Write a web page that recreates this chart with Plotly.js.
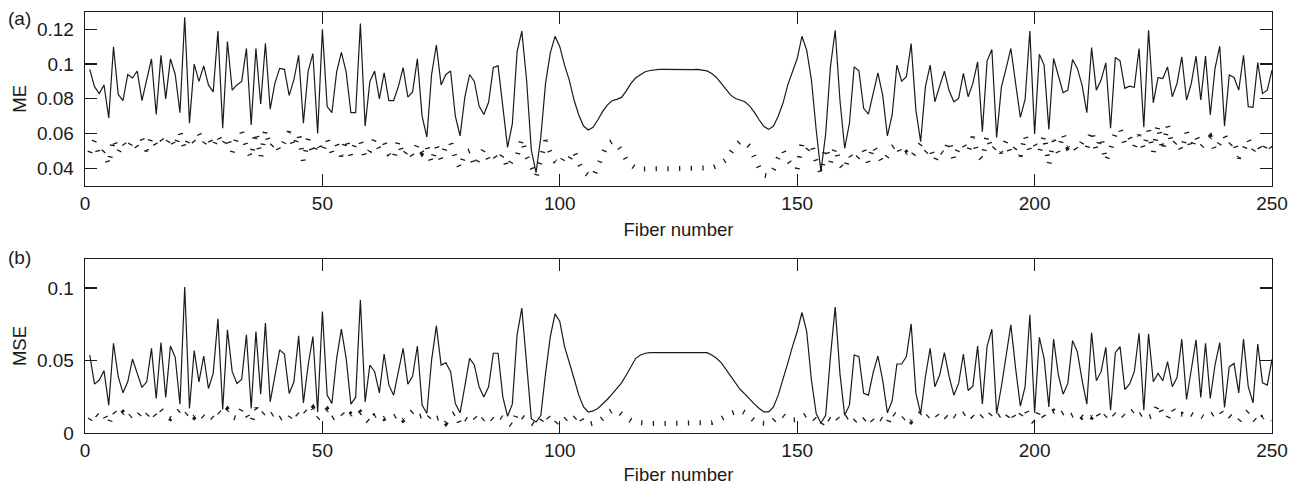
<!DOCTYPE html>
<html>
<head>
<meta charset="utf-8">
<script src="https://cdn.plot.ly/plotly-3.0.1.min.js"></script>
<style>html,body{margin:0;padding:0;background:#fff;}#chart{width:1289px;height:485px;}</style>
</head>
<body>
<div id="chart"></div>
<script>
// Fiber numbers 1..250
const fiber = Array.from({length: 250}, (_, i) => i + 1);

// (a) ME, solid line
const meSolid = [
0.097,0.087,0.083,0.088,0.069,0.110,0.0825,0.079,0.094,0.092,
0.096,0.079,0.091,0.103,0.071,0.105,0.080,0.103,0.094,0.072,
0.127,0.066,0.100,0.090,0.099,0.088,0.084,0.119,0.063,0.113,
0.085,0.088,0.090,0.109,0.065,0.109,0.077,0.112,0.074,0.089,
0.0975,0.097,0.082,0.091,0.105,0.066,0.096,0.106,0.060,0.120,
0.0755,0.072,0.0955,0.1067,0.0955,0.072,0.072,0.1233,0.0643,0.090,
0.096,0.080,0.095,0.079,0.079,0.087,0.098,0.081,0.084,0.103,
0.070,0.058,0.094,0.111,0.088,0.094,0.096,0.070,0.0586,0.081,
0.094,0.090,0.0758,0.071,0.078,0.098,0.099,0.0745,0.052,0.0655,
0.107,0.119,0.091,0.0505,0.0375,0.058,0.089,0.1065,0.116,0.110,
0.0994,0.0908,0.0793,0.0707,0.0643,0.062,0.0636,0.0678,0.0726,0.0764,
0.0789,0.0797,0.0808,0.0846,0.0889,0.0921,0.094,0.0956,0.0963,0.0968,
0.0969,0.097,0.0969,0.0968,0.0969,0.097,0.0969,0.0968,0.0969,0.0967,
0.0961,0.0946,0.0923,0.0889,0.0854,0.0821,0.0802,0.0793,0.0783,0.0758,
0.0722,0.0678,0.064,0.0624,0.0643,0.070,0.0774,0.0879,0.0956,0.1032,
0.116,0.108,0.0908,0.062,0.038,0.060,0.0984,0.1195,0.0793,0.0515,
0.0659,0.0984,0.0961,0.0745,0.0712,0.0831,0.095,0.0821,0.0586,0.0707,
0.0994,0.0902,0.0927,0.1118,0.0735,0.0553,0.0869,0.0994,0.0783,0.0873,
0.0959,0.0846,0.0783,0.0802,0.0946,0.0812,0.0889,0.1013,0.0611,0.1019,
0.1084,0.0578,0.0866,0.0975,0.109,0.0889,0.0693,0.0797,0.1191,0.0597,
0.1057,0.0994,0.0624,0.1032,0.0936,0.0835,0.085,0.1026,0.0975,0.0879,
0.072,0.1095,0.085,0.0908,0.1007,0.063,0.1038,0.1019,0.086,0.0873,
0.0866,0.109,0.0636,0.1195,0.0777,0.0923,0.0917,0.0984,0.0812,0.0889,
0.1042,0.0793,0.0889,0.1046,0.0793,0.1046,0.0707,0.0975,0.1103,0.0643,
0.0937,0.0923,0.085,0.1051,0.0755,0.0751,0.1009,0.0831,0.085,0.0965
];

// (a) ME, dotted line
const meDotted = [
0.049,0.056,0.047,0.050,0.042,0.057,0.049,0.055,0.051,0.056,
0.052,0.057,0.050,0.058,0.053,0.057,0.053,0.058,0.052,0.061,
0.051,0.058,0.055,0.060,0.054,0.058,0.052,0.059,0.053,0.058,
0.049,0.058,0.061,0.052,0.046,0.061,0.046,0.062,0.052,0.055,
0.050,0.056,0.061,0.052,0.060,0.044,0.057,0.048,0.055,0.049,
0.057,0.049,0.054,0.047,0.057,0.047,0.055,0.056,0.046,0.050,
0.057,0.051,0.055,0.048,0.045,0.056,0.047,0.051,0.047,0.054,
0.049,0.053,0.043,0.053,0.045,0.053,0.055,0.046,0.040,0.049,
0.050,0.041,0.046,0.051,0.045,0.048,0.044,0.048,0.040,0.045,
0.047,0.057,0.047,0.041,0.035,0.045,0.056,0.049,0.044,0.042,
0.047,0.045,0.050,0.043,0.038,0.036,0.035,0.041,0.048,0.054,
0.0555,0.054,0.050,0.045,0.042,0.040,0.0395,0.0395,0.0396,0.0397,
0.0397,0.0397,0.0397,0.0397,0.0397,0.0397,0.0397,0.0397,0.0397,0.0397,
0.0398,0.0402,0.0413,0.043,0.0448,0.049,0.053,0.0555,0.055,0.0525,
0.0465,0.040,0.036,0.0355,0.0394,0.046,0.0505,0.0448,0.041,0.0394,
0.054,0.050,0.054,0.044,0.037,0.052,0.043,0.052,0.042,0.039,
0.048,0.044,0.047,0.051,0.043,0.053,0.048,0.043,0.047,0.052,
0.054,0.047,0.049,0.046,0.050,0.054,0.049,0.052,0.044,0.050,
0.048,0.056,0.045,0.052,0.054,0.049,0.058,0.048,0.045,0.059,
0.050,0.053,0.049,0.056,0.048,0.052,0.047,0.059,0.050,0.054,
0.049,0.059,0.042,0.056,0.049,0.060,0.052,0.054,0.050,0.055,
0.051,0.062,0.050,0.058,0.044,0.051,0.060,0.063,0.054,0.058,
0.052,0.059,0.051,0.062,0.049,0.065,0.050,0.065,0.053,0.056,
0.050,0.061,0.051,0.059,0.052,0.055,0.058,0.050,0.054,0.059,
0.053,0.056,0.046,0.050,0.057,0.050,0.054,0.049,0.055,0.051
];

// (b) MSE, solid line
const mseSolid = [
0.0538,0.0337,0.0365,0.043,0.0192,0.0619,0.0388,0.0277,0.0353,0.051,
0.0411,0.0314,0.0353,0.0584,0.0238,0.0624,0.0245,0.060,0.0522,0.0199,
0.1007,0.0169,0.0568,0.0353,0.0531,0.0307,0.0411,0.0788,0.0162,0.0711,
0.0423,0.0342,0.037,0.0677,0.0169,0.070,0.0268,0.0758,0.0215,0.0388,
0.0573,0.0545,0.0273,0.0353,0.067,0.0208,0.0469,0.0665,0.0145,0.0838,
0.0261,0.0203,0.0515,0.0716,0.0515,0.0199,0.0245,0.0919,0.0215,0.0469,
0.0423,0.0277,0.0545,0.033,0.0261,0.0423,0.0584,0.0337,0.0393,0.060,
0.0192,0.0134,0.0503,0.0739,0.0469,0.0485,0.0423,0.0203,0.0139,0.0323,
0.0515,0.0469,0.0319,0.0249,0.0319,0.055,0.055,0.0249,0.0115,0.0199,
0.0677,0.0861,0.0469,0.0099,0.0076,0.0122,0.0411,0.0665,0.0822,0.0769,
0.0596,0.0492,0.0376,0.0261,0.018,0.0145,0.0152,0.0169,0.0199,0.0231,
0.0268,0.0307,0.0346,0.040,0.0462,0.0515,0.0538,0.055,0.0554,0.0556,
0.0556,0.0555,0.0554,0.0554,0.0553,0.0552,0.0554,0.0555,0.0556,0.0557,
0.0554,0.0538,0.0515,0.0485,0.0439,0.0388,0.0342,0.030,0.0268,0.0231,
0.0199,0.0169,0.0145,0.0145,0.018,0.0261,0.0365,0.048,0.0596,0.070,
0.0831,0.070,0.0365,0.0134,0.0069,0.0122,0.0527,0.0868,0.0411,0.0122,
0.0192,0.0538,0.0527,0.0273,0.0261,0.0416,0.0531,0.0365,0.0139,0.0222,
0.0476,0.0476,0.0527,0.0753,0.0273,0.0134,0.0388,0.0584,0.0319,0.040,
0.0554,0.0388,0.0261,0.0342,0.0545,0.0293,0.0323,0.060,0.0199,0.060,
0.0716,0.0134,0.0319,0.0538,0.0746,0.0446,0.0185,0.0319,0.0815,0.0139,
0.066,0.0515,0.018,0.0647,0.040,0.0268,0.0342,0.0637,0.0561,0.0365,
0.0199,0.0693,0.036,0.0423,0.0591,0.0157,0.0554,0.0596,0.030,0.0337,
0.0423,0.0688,0.0157,0.0684,0.0353,0.0411,0.036,0.0492,0.0319,0.0383,
0.0647,0.0231,0.0446,0.0642,0.0245,0.0619,0.0238,0.0469,0.0624,0.0176,
0.0457,0.048,0.0277,0.0647,0.0319,0.0208,0.0614,0.0346,0.033,0.0508
];

// (b) MSE, dotted line
const mseDotted = [
0.009,0.014,0.011,0.013,0.006,0.015,0.011,0.014,0.010,0.013,
0.011,0.015,0.012,0.0155,0.011,0.016,0.012,0.010,0.013,0.016,
0.012,0.015,0.011,0.014,0.011,0.013,0.010,0.015,0.012,0.016,
0.011,0.010,0.017,0.013,0.007,0.017,0.012,0.015,0.012,0.014,
0.010,0.012,0.010,0.015,0.012,0.016,0.013,0.017,0.010,0.013,
0.016,0.010,0.012,0.014,0.010,0.013,0.011,0.014,0.010,0.007,
0.012,0.013,0.010,0.012,0.011,0.013,0.009,0.012,0.015,0.011,
0.012,0.009,0.013,0.010,0.011,0.007,0.012,0.014,0.006,0.010,
0.008,0.011,0.007,0.010,0.012,0.009,0.012,0.010,0.008,0.005,
0.014,0.011,0.009,0.007,0.005,0.008,0.013,0.009,0.006,0.010,
0.009,0.012,0.010,0.013,0.007,0.006,0.007,0.0075,0.010,0.0135,
0.0155,0.0158,0.013,0.0105,0.0085,0.0075,0.007,0.0066,0.0065,0.0065,
0.0065,0.0065,0.0065,0.0065,0.0065,0.0065,0.0065,0.0065,0.0065,0.0065,
0.0066,0.0072,0.0082,0.0095,0.0115,0.0135,0.015,0.0158,0.014,0.0111,
0.0085,0.0068,0.0064,0.0065,0.0085,0.0118,0.0123,0.0098,0.009,0.0092,
0.011,0.013,0.012,0.008,0.005,0.011,0.009,0.012,0.008,0.010,
0.012,0.008,0.011,0.009,0.012,0.008,0.011,0.009,0.006,0.014,
0.011,0.009,0.012,0.008,0.011,0.014,0.010,0.013,0.014,0.010,
0.012,0.009,0.012,0.010,0.013,0.015,0.011,0.009,0.012,0.010,
0.014,0.011,0.013,0.010,0.015,0.009,0.012,0.017,0.010,0.007,
0.016,0.011,0.013,0.015,0.012,0.014,0.011,0.013,0.014,0.011,
0.013,0.011,0.015,0.009,0.012,0.015,0.012,0.014,0.011,0.014,
0.016,0.012,0.014,0.011,0.012,0.020,0.013,0.010,0.017,0.012,
0.013,0.011,0.013,0.011,0.012,0.010,0.012,0.014,0.016,0.011,
0.012,0.009,0.008,0.012,0.015,0.010,0.007,0.011,0.012,0.009
];

const xTicks = [0, 50, 100, 150, 200, 250];
const meTicks = [0.04, 0.06, 0.08, 0.1, 0.12];
const meTickText = ['0.04', '0.06', '0.08', '0.1', '0.12'];
const mseTicks = [0, 0.05, 0.1];
const mseTickText = ['0', '0.05', '0.1'];

const FONT = '"Liberation Sans", Arial, Helvetica, sans-serif';
const INK = '#1a1a1a';

const solidLine = {color: INK, width: 1.2};
// dotted style: short bars across the path
const dotLine = {color: INK, width: 5, dash: '1.3px,10.4px'};

const traces = [
  {x: fiber, y: meSolid, xaxis: 'x', yaxis: 'y', mode: 'lines', line: solidLine, hoverinfo: 'skip'},
  {x: fiber, y: meDotted, xaxis: 'x', yaxis: 'y', mode: 'lines', line: dotLine, hoverinfo: 'skip'},
  {x: fiber, y: mseSolid, xaxis: 'x2', yaxis: 'y2', mode: 'lines', line: solidLine, hoverinfo: 'skip'},
  {x: fiber, y: mseDotted, xaxis: 'x2', yaxis: 'y2', mode: 'lines', line: dotLine, hoverinfo: 'skip'}
];

function xAxis(anchor) {
  return {
    anchor: anchor, domain: [0, 1], range: [0, 250], tickvals: xTicks, ticktext: xTicks.map(String),
    ticks: 'inside', ticklen: 12, tickwidth: 1.2, tickcolor: INK,
    showline: true, linecolor: INK, linewidth: 1.3, mirror: 'ticks',
    showgrid: false, zeroline: false,
    tickfont: {family: FONT, size: 19, color: INK},
    title: {text: 'Fiber number', font: {family: FONT, size: 18.5, color: INK}, standoff: 10},
    automargin: false
  };
}
function yAxis(anchor, domain, range, tv, tt, title) {
  return {
    anchor: anchor, domain: domain, range: range, tickvals: tv, ticktext: tt,
    ticks: 'inside', ticklen: 12, tickwidth: 1.2, tickcolor: INK,
    showline: true, linecolor: INK, linewidth: 1.3, mirror: 'ticks',
    showgrid: false, zeroline: false,
    tickfont: {family: FONT, size: 19, color: INK},
    ticklabelstandoff: 6,
    title: {text: title, font: {family: FONT, size: 18.5, color: INK}, standoff: 5},
    automargin: false
  };
}

const layout = {
  width: 1289, height: 485,
  margin: {l: 85, r: 17, t: 12, b: 52, pad: 0},
  paper_bgcolor: '#ffffff', plot_bgcolor: '#ffffff',
  showlegend: false,
  font: {family: FONT, color: INK},
  xaxis: xAxis('y'),
  yaxis: yAxis('x', [0.5876, 1], [0.03, 0.13], meTicks, meTickText, 'ME'),
  xaxis2: xAxis('y2'),
  yaxis2: yAxis('x2', [0, 0.4133], [0, 0.12], mseTicks, mseTickText, 'MSE'),
  annotations: [
    {text: '(a)', xref: 'paper', yref: 'paper', x: -0.0556, y: 0.9834, xanchor: 'center', yanchor: 'middle', showarrow: false, font: {family: FONT, size: 19, color: INK}},
    {text: '(b)', xref: 'paper', yref: 'paper', x: -0.0548, y: 0.418, xanchor: 'center', yanchor: 'middle', showarrow: false, font: {family: FONT, size: 19, color: INK}}
  ]
};

Plotly.newPlot('chart', traces, layout, {staticPlot: true, displayModeBar: false});
</script>
</body>
</html>
